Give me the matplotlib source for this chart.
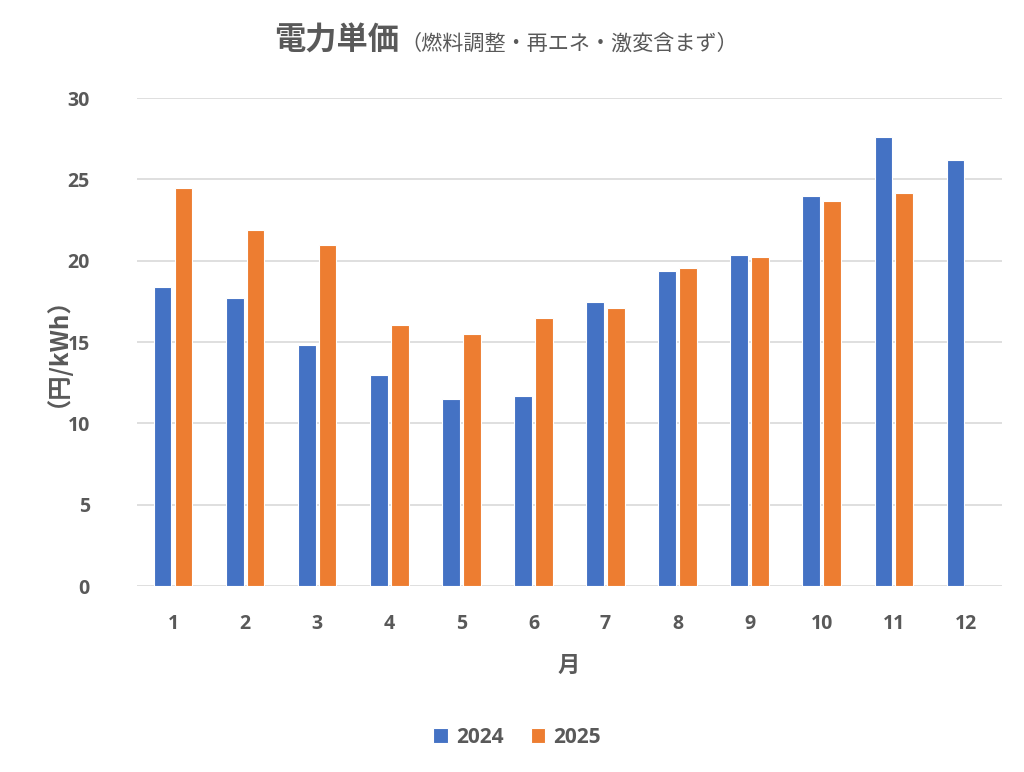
import numpy as np
import matplotlib.pyplot as plt

months = [1, 2, 3, 4, 5, 6, 7, 8, 9, 10, 11, 12]
price_2024 = [18.4, 17.7, 14.8, 13.0, 11.5, 11.7, 17.45, 19.35, 20.35, 23.95, 27.6, 26.2]
price_2025 = [24.5, 21.9, 20.95, 16.05, 15.5, 16.45, 17.1, 19.55, 20.25, 23.7, 24.15]
yticks = [0, 5, 10, 15, 20, 25, 30]

plt.rcParams['font.family'] = ['Open Sans', 'Noto Sans CJK JP', 'DejaVu Sans']
gray = '#595959'
cjk = ['Noto Sans CJK JP', 'DejaVu Sans']

fig = plt.figure(figsize=(10.24, 7.72), dpi=100)
ax = fig.add_axes([0.1338, 0.2409, 0.8447, 0.6321])

x = np.array(months)
w = 0.245
ax.bar(x[:len(price_2024)] - 0.145, price_2024, w, color='#4472c4',
       edgecolor='white', linewidth=0.8, label='2024', zorder=3)
ax.bar(x[:len(price_2025)] + 0.145, price_2025, w, color='#ed7d31',
       edgecolor='white', linewidth=0.8, label='2025', zorder=3)

ax.set_xlim(0.5, 12.5)
ax.set_ylim(0, 30)
ax.set_yticks(yticks)
ax.set_xticks(months)
ax.grid(axis='y', color='#d9d9d9', linewidth=1.2, zorder=0)
for s in ax.spines.values():
    s.set_visible(False)
ax.tick_params(length=0, labelsize=14, labelcolor=gray)
ax.tick_params(axis='x', pad=20)
ax.tick_params(axis='y', pad=34)
for lab in ax.get_xticklabels() + ax.get_yticklabels():
    lab.set_fontweight('bold')

fig.text(0.044, 0.56, '（円/kWh）', rotation=90, ha='center', va='center',
         fontsize=17.5, color=gray, fontweight='bold', family=cjk)
fig.text(0.555, 0.138, '月', ha='center', va='center', fontsize=16,
         color=gray, fontweight='bold', family=cjk)

fig.text(0.268, 0.947, '電力単価', ha='left', va='center', fontsize=22.5,
         color=gray, fontweight='bold', family=cjk)
fig.text(0.391, 0.943, '（燃料調整・再エネ・激変含まず）', ha='left', va='center',
         fontsize=15.2, color=gray, family=cjk)

leg = fig.legend(loc='center', bbox_to_anchor=(0.505, 0.045), ncol=2, frameon=False,
                 fontsize=15, handlelength=0.7, handleheight=0.7, columnspacing=1.3,
                 handletextpad=0.4)
for t in leg.get_texts():
    t.set_color(gray)
    t.set_fontweight('bold')

fig.savefig('out.png', dpi=100)
